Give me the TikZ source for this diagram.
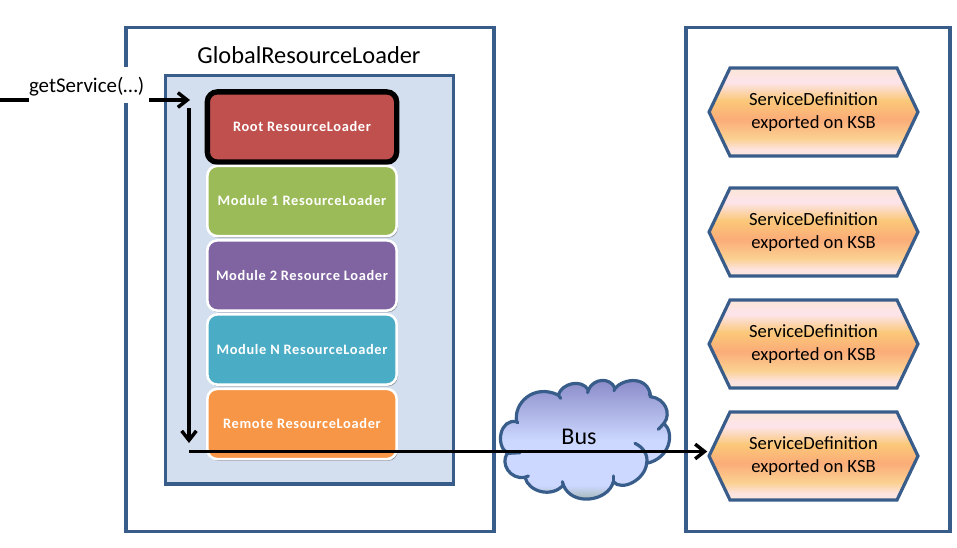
\documentclass[tikz,border=0pt]{standalone}
\usepackage{fontspec}
\setmainfont{Carlito}
\usetikzlibrary{arrows.meta,shadows,shapes.symbols}
\definecolor{edgeblue}{HTML}{385D8A}
\definecolor{panelblue}{HTML}{D3DFEE}
\definecolor{hxa}{HTML}{FBE6D6}
\definecolor{hxb}{HTML}{FDE4E4}
\definecolor{hxc}{HTML}{FBD090}
\definecolor{hxd}{HTML}{FBAC78}
\definecolor{hxe}{HTML}{FBC878}
\definecolor{hxf}{HTML}{FDE4EC}
\definecolor{hxg}{HTML}{FBE6D6}
\definecolor{cla}{HTML}{8FA28C}
\definecolor{clb}{HTML}{CCD8FF}
\definecolor{clc}{HTML}{8585C4}
\definecolor{rootred}{HTML}{C0504D}
\definecolor{modgreen}{HTML}{9BBB59}
\definecolor{modpurple}{HTML}{8064A2}
\definecolor{modcyan}{HTML}{4BACC6}
\definecolor{modorange}{HTML}{F79646}
\newcommand{\liftlabel}[1]{\raisebox{0.75pt}{#1}}
\pgfdeclareverticalshading{hexshade}{100bp}{
  color(0bp)=(hxa);color(25bp)=(hxa);color(28.5bp)=(hxb);color(35bp)=(hxc);color(46bp)=(hxd);
  color(56.5bp)=(hxe);color(67bp)=(hxf);color(75bp)=(hxg);color(100bp)=(hxg)}
\pgfdeclareverticalshading{cloudshade}{100bp}{
  color(0bp)=(cla);color(25bp)=(cla);color(33bp)=(clb);color(50bp)=(clb);color(75bp)=(clc);color(100bp)=(clc)}
\tikzset{
  frame/.style={draw=edgeblue,line width=2.5pt,fill=white,outer sep=0pt,inner sep=0pt,anchor=north west},
  panel/.style={draw=edgeblue,line width=2.5pt,fill=panelblue,outer sep=0pt,inner sep=0pt,anchor=north west},
  loader/.style={draw=white,line width=1.9pt,rounded corners=7.5pt,minimum width=142pt,minimum height=52.7pt,inner sep=0pt,
    text=white,font=\fontsize{10.8pt}{12pt}\selectfont\bfseries\addfontfeature{LetterSpace=4.5},
    general shadow={shadow xshift=0.9pt,shadow yshift=-1.3pt,fill=black!65,opacity=.55}},
  hexa/.style={shape=signal,signal to=east and west,signal pointer angle=129,draw=edgeblue,line width=2.4pt,
    shading=hexshade,minimum width=156.7pt,minimum height=66pt,inner sep=0pt,align=center,
    font=\fontsize{13.95pt}{17.2pt}\selectfont,text=black},
  flow/.style={draw=black,line width=2.6pt,-{Straight Barb[length=7pt,width=11pt,line width=2.6pt]}},
  cloudline/.style={draw=edgeblue,line width=2.4pt,line cap=round}
}
\begin{document}
\begin{tikzpicture}[x=0.75pt,y=-0.75pt]
\useasboundingbox (0,0) rectangle (957,547);
\node[frame,minimum width=276pt,minimum height=377.85pt] (outer) at (126,27.7) {};
\node[frame,minimum width=198pt,minimum height=377.85pt] (right) at (686,27.7) {};
\node[panel,minimum width=216pt,minimum height=306.5pt] (inner) at (165.5,75.3) {};
\node[font=\fontsize{18.3pt}{20pt}\selectfont,text=black] (title) at (309,55) {GlobalResourceLoader};

\node[loader,draw=black,line width=4pt,fill=rootred] (root) at (302,127) {\liftlabel{Root ResourceLoader}};
\node[loader,fill=modgreen] (m1) at (302,201) {\liftlabel{Module 1 ResourceLoader}};
\node[loader,fill=modpurple] (m2) at (302,275.5) {\liftlabel{Module 2 Resource Loader}};
\node[loader,fill=modcyan] (mn) at (302,349.5) {\liftlabel{Module N ResourceLoader}};
\node[loader,fill=modorange] (remote) at (302,424) {\liftlabel{Remote ResourceLoader}};

\node[hexa] (h1) at (813.5,112) {ServiceDefinition\\exported on KSB};
\node[hexa] (h2) at (813.5,232) {ServiceDefinition\\exported on KSB};
\node[hexa] (h3) at (813.5,344) {ServiceDefinition\\exported on KSB};
\node[hexa] (h4) at (813.5,456) {ServiceDefinition\\exported on KSB};

% cloud
\begin{scope}[shift={(490,370)},x=0.25pt,y=-0.25pt]
\path[cloudline,shading=cloudshade]
 (80,155) .. controls (70,100) and (130,40) .. (205,75)
 .. controls (215,40) and (275,25) .. (295,60)
 .. controls (310,25) and (360,20) .. (375,55)
 .. controls (400,25) and (475,15) .. (482,80)
 .. controls (525,85) and (545,130) .. (522,160)
 .. controls (555,190) and (540,265) .. (470,280)
 .. controls (465,330) and (395,365) .. (370,335)
 .. controls (355,395) and (245,410) .. (220,345)
 .. controls (185,385) and (115,365) .. (105,322)
 .. controls (60,330) and (30,280) .. (52,250)
 .. controls (15,225) and (30,145) .. (80,155) -- cycle;
\draw[cloudline] (80,155) -- (83,158);
\draw[cloudline] (205,75) -- (212,85);
\draw[cloudline] (295,60) -- (293,68);
\draw[cloudline] (375,55) -- (372,62);
\draw[cloudline] (482,80) -- (478,72);
\draw[cloudline] (522,160) -- (505,178);
\draw[cloudline] (470,280) .. controls (475,255) and (460,232) .. (435,220);
\draw[cloudline] (370,335) -- (370,318);
\draw[cloudline] (220,345) -- (217,335);
\draw[cloudline] (105,322) -- (115,318);
\draw[cloudline] (52,250) -- (90,248);
\end{scope}
\node[font=\fontsize{18pt}{20pt}\selectfont,text=black] (bus) at (579,437) {Bus};

\coordinate (callin) at (0,100);
\coordinate (callout) at (190,100);
\coordinate (downa) at (189,108);
\coordinate (downb) at (189,443);
\coordinate (busa) at (189,451.5);
\draw[flow] (callin) -- (callout);
\node[fill=white,inner sep=0pt,text width=90pt,minimum height=27pt,align=left,font=\fontsize{15.7pt}{17pt}\selectfont,text=black] (call) at (89,85) {\raisebox{-2.2pt}[11pt][3.5pt]{getService(…)}};
\draw[flow] (downa) -- (downb);
\draw[flow] (busa) -- (busa -| h4.west);
\end{tikzpicture}
\end{document}
